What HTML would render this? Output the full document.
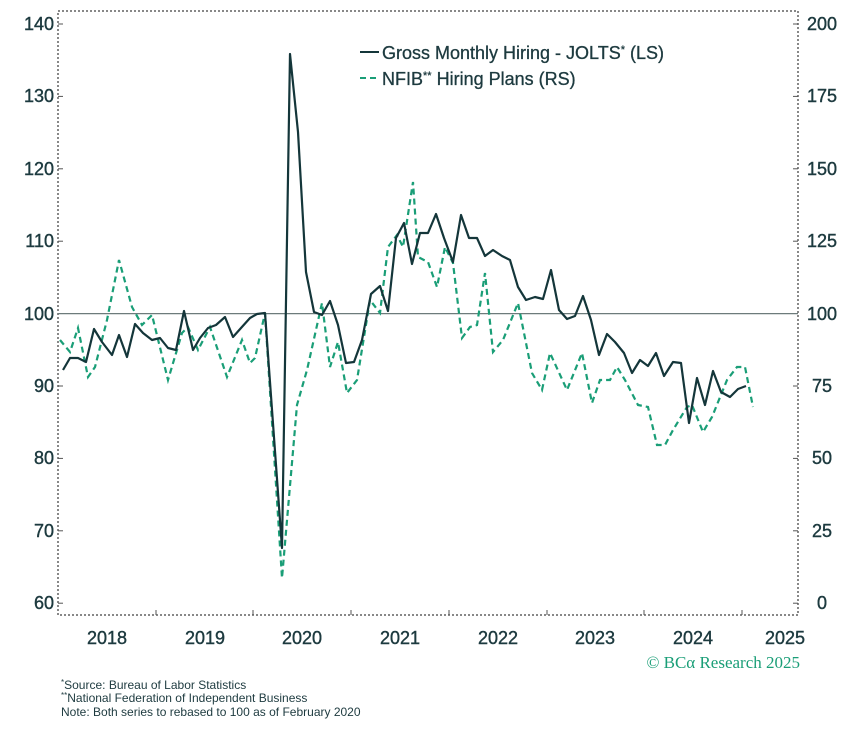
<!DOCTYPE html>
<html><head><meta charset="utf-8"><style>
html,body{margin:0;padding:0;background:#fff;}
svg{display:block;font-family:"Liberation Sans",sans-serif;}
</style></head><body>
<svg width="861" height="735" viewBox="0 0 861 735" xmlns="http://www.w3.org/2000/svg">
<rect width="861" height="735" fill="#fff"/>
<rect x="58" y="11" width="740" height="604" fill="none" stroke="#111" stroke-width="1" stroke-dasharray="2,2"/>
<line x1="58" y1="313.6" x2="798" y2="313.6" stroke="#6d7b7b" stroke-width="1.2"/>
<g stroke="#555" stroke-width="1">
<line x1="58" y1="24" x2="63" y2="24"/><line x1="58" y1="96.4" x2="63" y2="96.4"/><line x1="58" y1="168.8" x2="63" y2="168.8"/><line x1="58" y1="241.2" x2="63" y2="241.2"/><line x1="58" y1="386" x2="63" y2="386"/><line x1="58" y1="458.4" x2="63" y2="458.4"/><line x1="58" y1="530.8" x2="63" y2="530.8"/><line x1="58" y1="603.2" x2="63" y2="603.2"/>
<line x1="793" y1="24" x2="798" y2="24"/><line x1="793" y1="96.4" x2="798" y2="96.4"/><line x1="793" y1="168.8" x2="798" y2="168.8"/><line x1="793" y1="241.2" x2="798" y2="241.2"/><line x1="793" y1="386" x2="798" y2="386"/><line x1="793" y1="458.4" x2="798" y2="458.4"/><line x1="793" y1="530.8" x2="798" y2="530.8"/><line x1="793" y1="603.2" x2="798" y2="603.2"/>
<line x1="156" y1="610" x2="156" y2="615"/><line x1="253" y1="610" x2="253" y2="615"/><line x1="351" y1="610" x2="351" y2="615"/><line x1="449" y1="610" x2="449" y2="615"/><line x1="547" y1="610" x2="547" y2="615"/><line x1="644" y1="610" x2="644" y2="615"/><line x1="742" y1="610" x2="742" y2="615"/>
</g>
<g font-size="18" fill="#1d3a3f" stroke="#1d3a3f" stroke-width="0.4" text-anchor="end">
<text x="54" y="30">140</text><text x="54" y="102">130</text><text x="54" y="175">120</text><text x="54" y="247">110</text><text x="54" y="320">100</text><text x="54" y="392">90</text><text x="54" y="464">80</text><text x="54" y="537">70</text><text x="54" y="609">60</text>
</g>
<g font-size="18" fill="#1d3a3f" stroke="#1d3a3f" stroke-width="0.4" text-anchor="middle">
<text x="822" y="30">200</text><text x="822" y="102">175</text><text x="822" y="175">150</text><text x="822" y="247">125</text><text x="822" y="320">100</text><text x="822" y="392">75</text><text x="822" y="464">50</text><text x="822" y="537">25</text><text x="822" y="609">0</text>
<text x="107" y="644">2018</text><text x="205" y="644">2019</text><text x="302" y="644">2020</text><text x="400" y="644">2021</text><text x="498" y="644">2022</text><text x="595" y="644">2023</text><text x="693" y="644">2024</text><text x="785" y="644">2025</text>
</g>
<polyline fill="none" stroke="#1a9e77" stroke-width="2.2" stroke-dasharray="6,4" points="60,340 70,352 78,328 88,377 95,367 107,320 119,260 132,307 142,325 152,315 168,380 182,333 188,327 198,350 210,327 227,377 242,340 250,363 255,358 265,313 282,578 297,405 307,370 322,303 330,367 338,342 347,393 357,380 370,300 380,313 388,247 397,235 403,247 413,182 418,257 428,262 437,287 445,247 453,263 462,338 470,327 477,325 485,273 493,352 503,340 518,303 532,373 542,390 550,353 567,390 582,353 592,403 600,380 610,380 617,367 625,380 638,405 648,407 657,445 665,445 673,430 687,407 692,405 703,432 712,417 727,380 737,367 745,367 753,407"/>
<polyline fill="none" stroke="#14363a" stroke-width="2.2" stroke-linejoin="round" points="63,370 70,358 78,358 86,362 94,329 102,342 112,355 119,335 127,357 135,324 143,333 152,340 160,338 168,348 176,350 184,311 193,350 200,338 208,328 216,325 225,317 233,337 241,328 250,318 257,314 265,313 282,548 290,54 298,132 306,272 314,312 322,315 330,301 338,325 346,363 354,362 362,340 371,294 380,286 388,311 396,238 404,223 412,264 420,233 428,233 436,214 444,238 453,262 461,215 469,238 477,238 485,256 493,250 502,256 510,260 518,287 526,300 535,297 543,299 551,270 559,310 567,319 575,316 583,296 591,320 599,355 607,334 615,342 624,353 632,373 640,360 648,366 656,353 664,376 673,362 681,363 689,423 697,378 705,405 713,371 721,392 730,397 738,389 746,386"/>
<line x1="360" y1="52" x2="379" y2="52" stroke="#14363a" stroke-width="2"/>
<line x1="360" y1="78" x2="379" y2="78" stroke="#1a9e77" stroke-width="2" stroke-dasharray="6,4"/>
<g font-size="18" fill="#1d3a3f" stroke="#1d3a3f" stroke-width="0.3">
<text x="382" y="59">Gross Monthly Hiring - JOLTS<tspan font-size="11" dy="-6">*</tspan><tspan dy="6"> (LS)</tspan></text>
<text x="382" y="85">NFIB<tspan font-size="11" dy="-6">**</tspan><tspan dy="6"> Hiring Plans (RS)</tspan></text>
</g>
<text x="800" y="668" text-anchor="end" font-family="Liberation Serif,serif" font-size="17" fill="#1a9e77">© BCα Research 2025</text>
<g font-size="12" fill="#1d3a3f">
<text x="61" y="689"><tspan font-size="8" dy="-4">*</tspan><tspan dy="4">Source: Bureau of Labor Statistics</tspan></text>
<text x="61" y="702"><tspan font-size="8" dy="-4">**</tspan><tspan dy="4">National Federation of Independent Business</tspan></text>
<text x="61" y="716">Note: Both series to rebased to 100 as of February 2020</text>
</g>
</svg>
</body></html>
